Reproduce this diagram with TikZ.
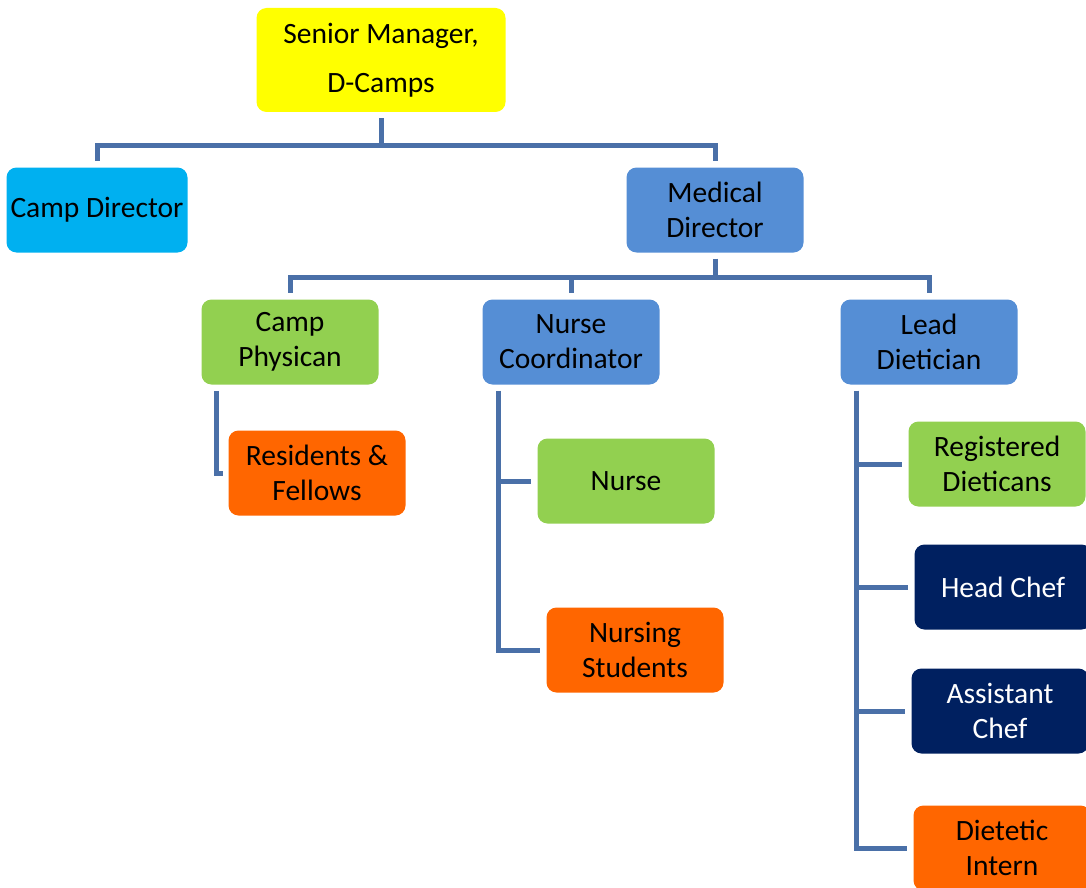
\documentclass[tikz,border=0pt]{standalone}
\usepackage{fontspec}
\setmainfont{Carlito}
\usetikzlibrary{positioning}
\usepackage{xcolor}
\definecolor{boxyellow}{HTML}{FFFF00}
\definecolor{boxcyan}{HTML}{00B0F0}
\definecolor{boxblue}{HTML}{558ED5}
\definecolor{boxgreen}{HTML}{92D050}
\definecolor{boxorange}{HTML}{FF6600}
\definecolor{boxnavy}{HTML}{002060}
\definecolor{linkblue}{HTML}{4A70A8}

\begin{document}
\begin{tikzpicture}[x=0.5pt, y=-0.5pt]
\tikzset{
    orgbox/.style={rectangle, rounded corners=5pt, fill=#1, draw=none, minimum width=88.5pt, minimum height=42.5pt, inner sep=2pt, align=center, font=\fontsize{14.75}{17.5}\selectfont},
    orgline/.style={draw=linkblue, line width=2.5pt, shorten <=3pt, shorten >=3pt}
}
\useasboundingbox (0,0) rectangle (1086,888);

\node[orgbox=boxyellow, minimum width=124.5pt, minimum height=52pt] (senior) at (381,60) {Senior Manager,\\[7pt]D-Camps};
\node[orgbox=boxcyan] (campdir) at (97,210) {Camp Director};
\node[orgbox=boxblue] (meddir) at (715,210) {Medical\\Director};
\node[orgbox=boxgreen] (physican) at (290,342) {Camp\\Physican};
\node[orgbox=boxblue] (nursecoord) at (571,342) {Nurse\\Coordinator};
\node[orgbox=boxblue] (dietician) at (929,342) {Lead\\Dietician};
\node[orgbox=boxorange] (residents) at (317,473) {Residents \&\\Fellows};
\node[orgbox=boxgreen] (nurse) at (626,481) {Nurse};
\node[orgbox=boxorange] (students) at (635,650) {Nursing\\Students};
\node[orgbox=boxgreen] (registered) at (997,464) {Registered\\Dieticans};
\node[orgbox=boxnavy, text=white] (headchef) at (1003,587) {Head Chef};
\node[orgbox=boxnavy, text=white] (assistchef) at (1000,711) {Assistant\\Chef};
\node[orgbox=boxorange] (intern) at (1002,848) {Dietetic\\Intern};

% top level
\draw[orgline] (senior.south) -- ++(0,33) -| (campdir.north);
\draw[orgline] (senior.south) -- ++(0,33) -| (meddir.north);
% medical director
\draw[orgline] (meddir.south) -- ++(0,25) -| (physican.north);
\draw[orgline] (meddir.south) -- ++(0,25) -| (nursecoord.north);
\draw[orgline] (meddir.south) -- ++(0,25) -| (dietician.north);
% side branches
\draw[orgline, shorten >=2.5pt] ([xshift=7.5pt]physican.south west) |- (residents.west);
\draw[orgline] ([xshift=8pt]nursecoord.south west) |- (nurse.west);
\draw[orgline] ([xshift=8pt]nursecoord.south west) |- (students.west);
\draw[orgline] ([xshift=8pt]dietician.south west) |- (registered.west);
\draw[orgline] ([xshift=8pt]dietician.south west) |- (headchef.west);
\draw[orgline] ([xshift=8pt]dietician.south west) |- (assistchef.west);
\draw[orgline] ([xshift=8pt]dietician.south west) |- (intern.west);

\end{tikzpicture}
\end{document}
